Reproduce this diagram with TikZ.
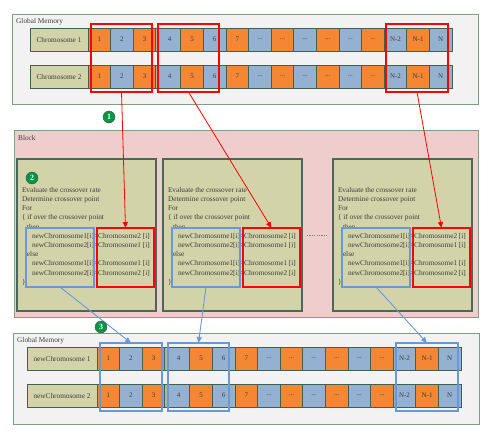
\documentclass[tikz,border=0pt]{standalone}
\usepackage{fontspec}
\setmainfont{Liberation Serif}
\usetikzlibrary{arrows.meta}
\definecolor{cor}{RGB}{245,134,52}
\definecolor{cbl}{RGB}{149,177,210}
\definecolor{cedge}{RGB}{64,96,80}
\definecolor{ckhaki}{RGB}{211,211,170}
\definecolor{cmem}{RGB}{242,242,242}
\definecolor{cmemedge}{RGB}{130,155,133}
\definecolor{cblock}{RGB}{240,205,205}
\definecolor{cgap}{RGB}{170,182,175}
\definecolor{ctext}{RGB}{60,60,60}
\definecolor{cred}{RGB}{255,0,0}
\definecolor{cblue}{RGB}{104,153,215}
\definecolor{cgreen}{RGB}{0,150,70}
\newcommand{\dotlbl}{...}
\newcommand{\xovertext}{Evaluate the crossover rate\\Determine crossover point\\For\\\{ if over the crossover point\\\hspace*{5pt}then\\\hspace*{10pt}newChromosome1[i]=Chromosome2 [i]\\\hspace*{10pt}newChromosome2[i]=Chromosome1 [i]\\\hspace*{5pt}else\\\hspace*{10pt}newChromosome1[i]=Chromosome1 [i]\\\hspace*{10pt}newChromosome2[i]=Chromosome2 [i]\\\}}
\begin{document}
\begin{tikzpicture}[x=1pt,y=-1pt,
  font=\fontsize{7.3}{9.2}\selectfont, text=ctext,
  box/.style={anchor=north west, inner sep=0pt, outer sep=0pt},
  membox/.style={box, draw=cmemedge, fill=cmem, line width=1pt},
  blockbox/.style={box, draw=cmemedge, fill=cblock, line width=1pt},
  innerbox/.style={box, draw=cedge!80!gray, fill=ckhaki, line width=1.1pt},
  rowlabel/.style={box, draw=cedge, fill=ckhaki, line width=0.9pt, minimum height=23pt},
  rowbar/.style={box, draw=cedge, fill=cgap, line width=0.9pt, minimum height=23pt, minimum width=364pt},
  cell/.style={box, draw=cedge, line width=0.7pt, minimum height=23pt, minimum width=22.6pt},
  redsel/.style={box, draw=cred, line width=2.4pt},
  bluesel/.style={box, draw=cblue, line width=2.4pt},
  redin/.style={box, draw=cred, line width=1.3pt},
  bluein/.style={box, draw=cblue, line width=1.3pt},
  redarrow/.style={draw=cred, line width=0.8pt, -{Triangle[length=6pt,width=5pt]}},
  bluearrow/.style={draw=cblue, line width=0.9pt, -{Triangle[length=6pt,width=5pt]}},
  badge/.style={circle, draw=black!70, line width=0.4pt, fill=cgreen, text=white, inner sep=0pt, minimum size=12pt, font=\fontsize{8}{8}\selectfont\bfseries},
  lbl/.style={anchor=west, inner sep=0pt}
]
\useasboundingbox (0,0) rectangle (490,437);

% ---------- top global memory ----------
\node[membox, minimum width=466pt, minimum height=90pt] (gmtop) at (12,14) {};
\node[lbl] (gmtoplbl) at (16,22) {Global Memory};
\foreach \r/\yy/\lab in {1/28/Chromosome 1, 2/65/Chromosome 2}{
  \node[rowlabel, minimum width=58pt] (tl\r) at (30,\yy) {};
  \node (tlt\r) at (tl\r.center) {\lab};
  \node[rowbar] (tb\r) at (88,\yy) {};
  \foreach \i/\t/\c in {1/1/cor,2/2/cbl,3/3/cor,4/4/cbl,5/5/cor,6/6/cbl,7/7/cor,8/\dotlbl/cbl,9/\dotlbl/cor,10/\dotlbl/cbl,11/\dotlbl/cor,12/\dotlbl/cbl,13/\dotlbl/cor,14/N-2/cbl,15/N-1/cor,16/N/cbl}{
    \pgfmathsetmacro\xx{88+(\i-1)*22.6+(\i>3)*2.4}
    \node[cell, fill=\c] (t\r-\i) at (\xx,\yy) {};
    \node (tt\r-\i) at (t\r-\i.center) {\fontsize{7}{8}\selectfont\t};
  }
}
\node[redsel, minimum width=61pt, minimum height=68pt] (rs1) at (91,24) {};
\node[redsel, minimum width=61pt, minimum height=68pt] (rs2) at (158,24) {};
\node[redsel, minimum width=62pt, minimum height=68pt] (rs3) at (386,24) {};

% ---------- block ----------
\node[blockbox, minimum width=464pt, minimum height=187pt] (blk) at (14,130) {};
\node[lbl] (blklbl) at (18,138) {Block};
\foreach \k/\L in {1/17,2/163,3/333}{
  \node[innerbox, minimum width=139pt, minimum height=152pt] (ib\k) at (\L,159) {};
  \node[box, align=left] (it\k) at (\L+5,187.3) {\xovertext};
  \node[bluein, minimum width=68pt, minimum height=59pt] (bi\k) at (\L+9,228) {};
  \node[redin, minimum width=57pt, minimum height=59pt] (ri\k) at (\L+80,228) {};
}
\coordinate (dotA) at (307,235);
\coordinate (dotB) at (328,235);
\draw[gray, line width=0.9pt, dash pattern=on 1.2pt off 1.2pt] (dotA) -- (dotB);

% ---------- bottom global memory ----------
\node[membox, minimum width=466pt, minimum height=91pt] (gmbot) at (13,333) {};
\node[lbl] (gmbotlbl) at (17,341) {Global Memory};
\foreach \r/\yy/\lab in {1/347/newChromosome 1, 2/384/newChromosome 2}{
  \node[rowlabel, minimum width=70pt] (bl\r) at (27,\yy) {};
  \node (blt\r) at (bl\r.center) {\lab};
  \node[rowbar] (bb\r) at (97,\yy) {};
  \foreach \i/\t/\c in {1/1/cor,2/2/cbl,3/3/cor,4/4/cbl,5/5/cor,6/6/cbl,7/7/cor,8/\dotlbl/cbl,9/\dotlbl/cor,10/\dotlbl/cbl,11/\dotlbl/cor,12/\dotlbl/cbl,13/\dotlbl/cor,14/N-2/cbl,15/N-1/cor,16/N/cbl}{
    \pgfmathsetmacro\xx{97+(\i-1)*22.6+(\i>3)*2.4}
    \node[cell, fill=\c] (b\r-\i) at (\xx,\yy) {};
    \node (bt\r-\i) at (b\r-\i.center) {\fontsize{7}{8}\selectfont\t};
  }
}
\node[bluesel, minimum width=62pt, minimum height=68pt] (bs1) at (100,343) {};
\node[bluesel, minimum width=61pt, minimum height=68pt] (bs2) at (168,343) {};
\node[bluesel, minimum width=62pt, minimum height=68pt] (bs3) at (396,343) {};

% ---------- connectors ----------
\draw[redarrow] (rs1.south) -- (ri1.north);
\draw[redarrow] (rs2.south) -- (ri2.north);
\draw[redarrow] (rs3.south) -- (ri3.north);
\draw[bluearrow] (bi1.south) -- (bs1.north);
\draw[bluearrow] (bi2.south) -- (bs2.north);
\draw[bluearrow] (bi3.south) -- (bs3.north);

% ---------- badges ----------
\node[badge] (n1) at (109,117) {1};
\node[badge] (n2) at (32,178) {2};
\node[badge] (n3) at (101,327) {3};
\end{tikzpicture}
\end{document}
